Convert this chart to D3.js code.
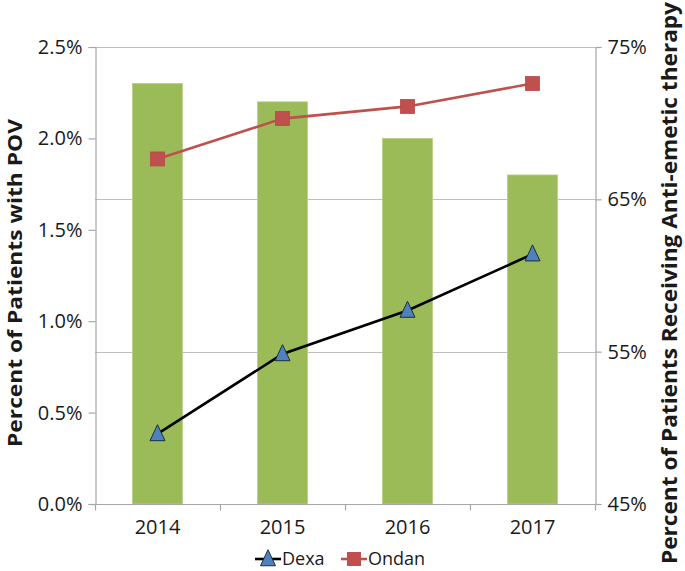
<!DOCTYPE html>
<html>
<head>
<meta charset="utf-8">
<script src="https://cdn.jsdelivr.net/npm/d3@7"></script>
<style>
  html, body { margin: 0; padding: 0; background: #fff; }
  svg { display: block; }
  text { font-family: "Open Sans", "DejaVu Sans", sans-serif; fill: #1a1a1a; }
</style>
</head>
<body>
<div id="chart"></div>
<script>
const years = ["2014", "2015", "2016", "2017"];
const povValues = [0.023, 0.022, 0.020, 0.018];
const dexaValues = [0.496, 0.5485, 0.577, 0.614];
const ondanValues = [0.6765, 0.703, 0.711, 0.726];
const leftTicks = [0, 0.005, 0.010, 0.015, 0.020, 0.025];
const rightTicks = [0.45, 0.55, 0.65, 0.75];
const leftTitle = "Percent of Patients with POV";
const rightTitle = "Percent of Patients Receiving Anti-emetic therapy";
const seriesNames = ["Dexa", "Ondan"];

const W = 685, H = 571;
const plot = { left: 95, right: 595, top: 47, bottom: 504 };

const svg = d3.select("#chart").append("svg").attr("width", W).attr("height", H);

const x = d3.scaleBand().domain(years).range([plot.left, plot.right])
  .paddingInner(0.6).paddingOuter(0.3);
const yL = d3.scaleLinear().domain([0, 0.025]).range([plot.bottom, plot.top]);
const yR = d3.scaleLinear().domain([0.45, 0.75]).range([plot.bottom, plot.top]);

const gridColor = "#bfbfbf";
const axisColor = "#a6a6a6";

// gridlines (from right axis)
svg.append("g").selectAll("line").data(rightTicks.slice(1)).join("line")
  .attr("x1", plot.left).attr("x2", plot.right)
  .attr("y1", d => Math.round(yR(d)) + 0.5).attr("y2", d => Math.round(yR(d)) + 0.5)
  .attr("stroke", gridColor).attr("stroke-width", 1.2);

// bars
svg.append("g").selectAll("rect").data(povValues).join("rect")
  .attr("x", (d, i) => x(years[i]))
  .attr("width", x.bandwidth())
  .attr("y", d => yL(d))
  .attr("height", d => yL(0) - yL(d))
  .attr("fill", "#9bbb59")
  .attr("stroke", "#b5cf84").attr("stroke-width", 0.8);

// left axis
const leftAxis = d3.axisLeft(yL).tickValues(leftTicks).tickSize(7).tickPadding(6)
  .tickFormat(d3.format(".1%"));
const gL = svg.append("g").attr("transform", `translate(${plot.left + 0.5},0)`).call(leftAxis);
gL.select(".domain").attr("stroke", axisColor).attr("stroke-width", 1.2);
gL.selectAll(".tick line").attr("stroke", axisColor).attr("stroke-width", 1.2);
gL.selectAll(".tick text").attr("font-size", 20).attr("font-family", "Open Sans").attr("fill", "#1a1a1a");

// right axis
const rightAxis = d3.axisRight(yR).tickValues(rightTicks).tickSize(6).tickPadding(6)
  .tickFormat(d3.format(".0%"));
const gR = svg.append("g").attr("transform", `translate(${plot.right + 0.5},0)`).call(rightAxis);
gR.select(".domain").attr("stroke", axisColor).attr("stroke-width", 1.2);
gR.selectAll(".tick line").attr("stroke", axisColor).attr("stroke-width", 1.2);
gR.selectAll(".tick text").attr("font-size", 20).attr("font-family", "Open Sans").attr("fill", "#1a1a1a");

// x axis
const xAxisY = plot.bottom + 0.5;
svg.append("line").attr("x1", plot.left).attr("x2", plot.right)
  .attr("y1", xAxisY).attr("y2", xAxisY).attr("stroke", axisColor).attr("stroke-width", 1.2);
const bounds = [plot.left].concat(years.map(y => x(y) + x.bandwidth() / 2 + x.step() / 2));
svg.append("g").selectAll("line").data(bounds).join("line")
  .attr("x1", d => Math.round(d) + 0.5).attr("x2", d => Math.round(d) + 0.5)
  .attr("y1", xAxisY).attr("y2", xAxisY + 6)
  .attr("stroke", axisColor).attr("stroke-width", 1.2);
svg.append("g").selectAll("text").data(years).join("text")
  .attr("x", d => x(d) + x.bandwidth() / 2)
  .attr("y", 534)
  .attr("text-anchor", "middle")
  .attr("font-size", 20)
  .text(d => d);

// Ondan line
const lineR = d3.line().x((d, i) => x(years[i]) + x.bandwidth() / 2).y(d => yR(d));
svg.append("path").datum(ondanValues).attr("d", lineR)
  .attr("fill", "none").attr("stroke", "#c0504d").attr("stroke-width", 2.6);
svg.append("g").selectAll("rect").data(ondanValues).join("rect")
  .attr("x", (d, i) => x(years[i]) + x.bandwidth() / 2 - 7)
  .attr("y", d => yR(d) - 7)
  .attr("width", 14).attr("height", 14)
  .attr("fill", "#c0504d").attr("stroke", "#b9474a").attr("stroke-width", 0.8);

// Dexa line
svg.append("path").datum(dexaValues).attr("d", lineR)
  .attr("fill", "none").attr("stroke", "#000").attr("stroke-width", 2.6);
const tri = (cx, cy, s) => `M${cx},${cy - s * 0.62} L${cx + s / 2},${cy + s * 0.45} L${cx - s / 2},${cy + s * 0.45} Z`;
svg.append("g").selectAll("path").data(dexaValues).join("path")
  .attr("d", (d, i) => tri(x(years[i]) + x.bandwidth() / 2, yR(d), 15))
  .attr("fill", "#4f81bd").attr("stroke", "#1f2d3d").attr("stroke-width", 1);

// axis titles
svg.append("text")
  .attr("transform", `translate(22,${283}) rotate(-90)`)
  .attr("text-anchor", "middle")
  .attr("font-size", 20).attr("font-weight", "bold")
  .attr("textLength", 328).attr("lengthAdjust", "spacingAndGlyphs")
  .text(leftTitle);
svg.append("text")
  .attr("transform", `translate(677,${283}) rotate(-90)`)
  .attr("text-anchor", "middle")
  .attr("font-size", 21).attr("font-weight", "bold")
  .attr("textLength", 562).attr("lengthAdjust", "spacingAndGlyphs")
  .text(rightTitle);

// legend
const legY = 559;
const lg = svg.append("g");
// Dexa
lg.append("line").attr("x1", 255).attr("x2", 281).attr("y1", legY).attr("y2", legY)
  .attr("stroke", "#000").attr("stroke-width", 2.6);
lg.append("path").attr("d", tri(268, legY, 15)).attr("fill", "#4f81bd")
  .attr("stroke", "#1f2d3d").attr("stroke-width", 1);
lg.append("text").attr("x", 282).attr("y", legY + 6).attr("font-size", 18).text(seriesNames[0]);
// Ondan
lg.append("line").attr("x1", 341).attr("x2", 367).attr("y1", legY).attr("y2", legY)
  .attr("stroke", "#c0504d").attr("stroke-width", 2.6);
lg.append("rect").attr("x", 354 - 7).attr("y", legY - 7).attr("width", 14).attr("height", 14)
  .attr("fill", "#c0504d");
lg.append("text").attr("x", 368).attr("y", legY + 6).attr("font-size", 18).text(seriesNames[1]);
</script>
</body>
</html>
